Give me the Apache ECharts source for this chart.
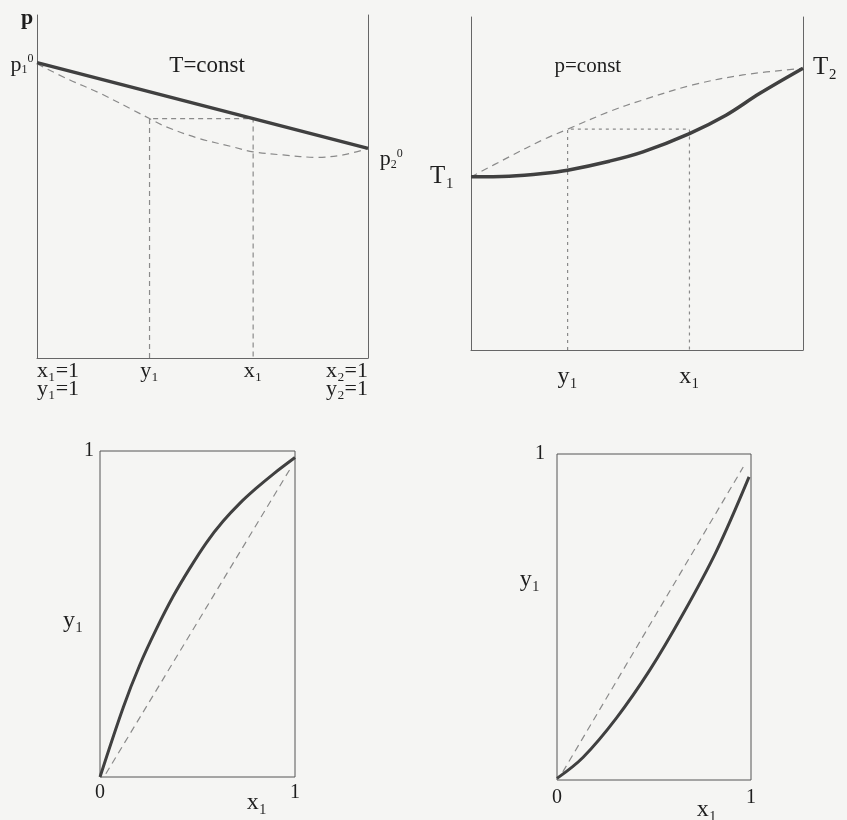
<!DOCTYPE html>
<html>
<head>
<meta charset="utf-8">
<script src="https://cdn.jsdelivr.net/npm/echarts@6/dist/echarts.min.js"></script>
<style>
html,body{margin:0;padding:0;background:#f5f5f3}
#main{width:847px;height:820px}
</style>
</head>
<body>
<div id="main"></div>
<script>
// top left: p - composition, T=const
const isoX = [0, 1];
const isoLiquid = [0.861, 0.611];
const isoVapX = [0, 0.089, 0.19, 0.29, 0.34, 0.39, 0.49, 0.59, 0.653, 0.743, 0.844, 0.925, 1];
const isoVapY = [0.858, 0.815, 0.772, 0.723, 0.698, 0.674, 0.64, 0.616, 0.601, 0.592, 0.585, 0.592, 0.611];
const isoTie = [0.34, 0.653];      // y1, x1
const isoTieP = 0.698;
const isoTicks = [0, 0.34, 0.653, 1];
const isoTickText = ['x₁=1\ny₁=1', 'y₁', 'x₁', 'x₂=1\ny₂=1'];

// top right: T - composition, p=const
const isobX = [0, 0.115, 0.216, 0.291, 0.417, 0.518, 0.658, 0.768, 0.869, 1];
const isobLiquid = [0.52, 0.522, 0.53, 0.54, 0.567, 0.595, 0.65, 0.705, 0.77, 0.846];
const isobVapX = [0, 0.115, 0.216, 0.291, 0.417, 0.518, 0.668, 0.819, 1];
const isobVapY = [0.52, 0.58, 0.631, 0.663, 0.716, 0.751, 0.796, 0.826, 0.846];
const isobTie = [0.291, 0.658];
const isobTieT = 0.663;
const isobTickText = ['y₁', 'x₁'];

// bottom: y1 - x1 diagrams
const eqAX = [0, 0.12, 0.205, 0.29, 0.376, 0.46, 0.547, 0.632, 0.718, 0.80, 0.89, 1];
const eqAY = [0, 0.215, 0.345, 0.455, 0.555, 0.64, 0.72, 0.785, 0.84, 0.885, 0.93, 0.98];
const diagA = [[0.03, 0.01], [0.975, 0.945]];
const eqBX = [0, 0.135, 0.306, 0.478, 0.65, 0.82, 0.99];
const eqBY = [0.005, 0.07, 0.19, 0.337, 0.51, 0.70, 0.93];
const diagB = [[0.03, 0.025], [0.96, 0.96]];

// text notes: [x, y, text] in axis units of each panel
const notes1 = [[-0.03, 0.99, '{bold|p}'], [-0.045, 0.855, '{m|p}{sb|1}{sp|0}'], [0.514, 0.851, 'T=const'], [1.07, 0.58, '{m|p}{sb|2}{sp|0}']];
const notes2 = [[0.352, 0.85, 'p=const'], [-0.087, 0.52, 'T₁'], [1.066, 0.85, 'T₂']];
const notes3 = [[-0.138, 0.48, 'y₁'], [0.805, -0.08, 'x₁']];
const notes4 = [[-0.139, 0.613, 'y₁'], [0.773, -0.092, 'x₁']];

const zip = (xs, ys) => xs.map((x, i) => [x, ys[i]]);
const FONT = 'Liberation Serif';
const INK = '#1e1e1e';
const SOLID = '#404040';
const DASH = '#8a8a8a';

const chart = echarts.init(document.getElementById('main'));

const richText = {
    bold: {fontSize: 22, fontFamily: FONT, color: INK, fontWeight: 'bold'},
    m: {fontSize: 22, fontFamily: FONT, color: INK},
    sb: {fontSize: 12, fontFamily: FONT, color: INK, verticalAlign: 'bottom', padding: [9, 0, 0, 0]},
    sp: {fontSize: 12, fontFamily: FONT, color: INK, verticalAlign: 'top', padding: [0, 0, 11, 0]}
};

function axisX(grid, extra) {
    return Object.assign({
        type: 'value', gridIndex: grid, min: 0, max: 1,
        axisLine: {show: true, onZero: false, lineStyle: {color: '#666', width: 1}},
        axisTick: {show: false},
        splitLine: {show: false},
        axisLabel: {show: false}
    }, extra);
}
function axisY(grid, extra) {
    return Object.assign({
        type: 'value', gridIndex: grid, min: 0, max: 1,
        axisLine: {show: true, onZero: false, lineStyle: {color: '#666', width: 1}},
        axisTick: {show: false},
        splitLine: {show: false},
        axisLabel: {show: false}
    }, extra);
}
function curve(xi, yi, data, opts) {
    return Object.assign({
        type: 'line', xAxisIndex: xi, yAxisIndex: yi, data: data,
        showSymbol: false, smooth: 0.35, silent: true,
        lineStyle: {color: SOLID, width: 3.5}
    }, opts);
}
function dashed(xi, yi, data, smooth, dash) {
    return curve(xi, yi, data, {
        smooth: smooth,
        lineStyle: {color: DASH, width: 1.2, type: dash || [7, 5]}
    });
}
function notes(xi, yi, list, sizes) {
    return {
        type: 'scatter', xAxisIndex: xi, yAxisIndex: yi, symbolSize: 0, clip: false, silent: true,
        itemStyle: {color: 'transparent', opacity: 1},
        data: list.map((n, i) => ({
            value: [n[0], n[1]], name: n[2],
            label: {
                show: true, position: 'inside', formatter: '{b}',
                color: INK, fontFamily: FONT, fontSize: sizes[i], rich: richText
            }
        })),
        label: {show: true, position: 'inside', formatter: '{b}', color: INK, fontFamily: FONT}
    };
}

const tickLabel = {show: true, color: INK, fontFamily: FONT, fontSize: 20};

const option = {
    backgroundColor: '#f5f5f3',
    animation: false,
    grid: [
        {left: 37, top: 15, width: 331, height: 343},
        {left: 471, top: 17, width: 332, height: 333},
        {left: 100, top: 451, width: 195, height: 326, show: true, borderColor: '#555', borderWidth: 1},
        {left: 557, top: 454, width: 194, height: 326, show: true, borderColor: '#555', borderWidth: 1}
    ],
    xAxis: [
        axisX(0, {axisLabel: Object.assign({}, tickLabel, {
            margin: 4, fontSize: 22, lineHeight: 18,
            alignMinLabel: 'left', alignMaxLabel: 'right',
            customValues: isoTicks,
            formatter: v => isoTickText[isoTicks.indexOf(v)] || ''
        })}),
        axisX(1, {axisLabel: Object.assign({}, tickLabel, {
            margin: 15, fontSize: 24,
            customValues: isobTie,
            formatter: v => isobTickText[isobTie.indexOf(v)] || ''
        })}),
        axisX(2, {axisLine: {show: false}, axisLabel: Object.assign({}, tickLabel, {
            margin: 6, customValues: [0, 1]
        })}),
        axisX(3, {axisLine: {show: false}, axisLabel: Object.assign({}, tickLabel, {
            margin: 8, customValues: [0, 1]
        })})
    ],
    yAxis: [
        axisY(0),
        axisY(0, {position: 'right'}),
        axisY(1),
        axisY(1, {position: 'right'}),
        axisY(2, {axisLine: {show: false}, axisLabel: Object.assign({}, tickLabel, {
            margin: 6, customValues: [1]
        })}),
        axisY(3, {axisLine: {show: false}, axisLabel: Object.assign({}, tickLabel, {
            margin: 12, customValues: [1]
        })})
    ],
    series: [
        // top left
        dashed(0, 0, [[isoTie[0], 0], [isoTie[0], isoTieP], [isoTie[1], isoTieP], [isoTie[1], 0]], false, [5, 4]),
        dashed(0, 0, zip(isoVapX, isoVapY), 0.35),
        curve(0, 0, zip(isoX, isoLiquid), {smooth: false}),
        notes(0, 0, notes1, [22, 22, 23, 22]),
        // top right
        dashed(1, 2, [[isobTie[0], 0], [isobTie[0], isobTieT], [isobTie[1], isobTieT], [isobTie[1], 0]], false, [3, 4]),
        dashed(1, 2, zip(isobVapX, isobVapY), 0.35),
        curve(1, 2, zip(isobX, isobLiquid)),
        notes(1, 2, notes2, [21, 25, 25]),
        // bottom left
        dashed(2, 4, diagA, false),
        curve(2, 4, zip(eqAX, eqAY), {lineStyle: {color: SOLID, width: 3}}),
        notes(2, 4, notes3, [24, 24]),
        // bottom right
        dashed(3, 5, diagB, false),
        curve(3, 5, zip(eqBX, eqBY), {lineStyle: {color: SOLID, width: 3}}),
        notes(3, 5, notes4, [24, 24])
    ]
};

chart.setOption(option);
</script>
</body>
</html>
